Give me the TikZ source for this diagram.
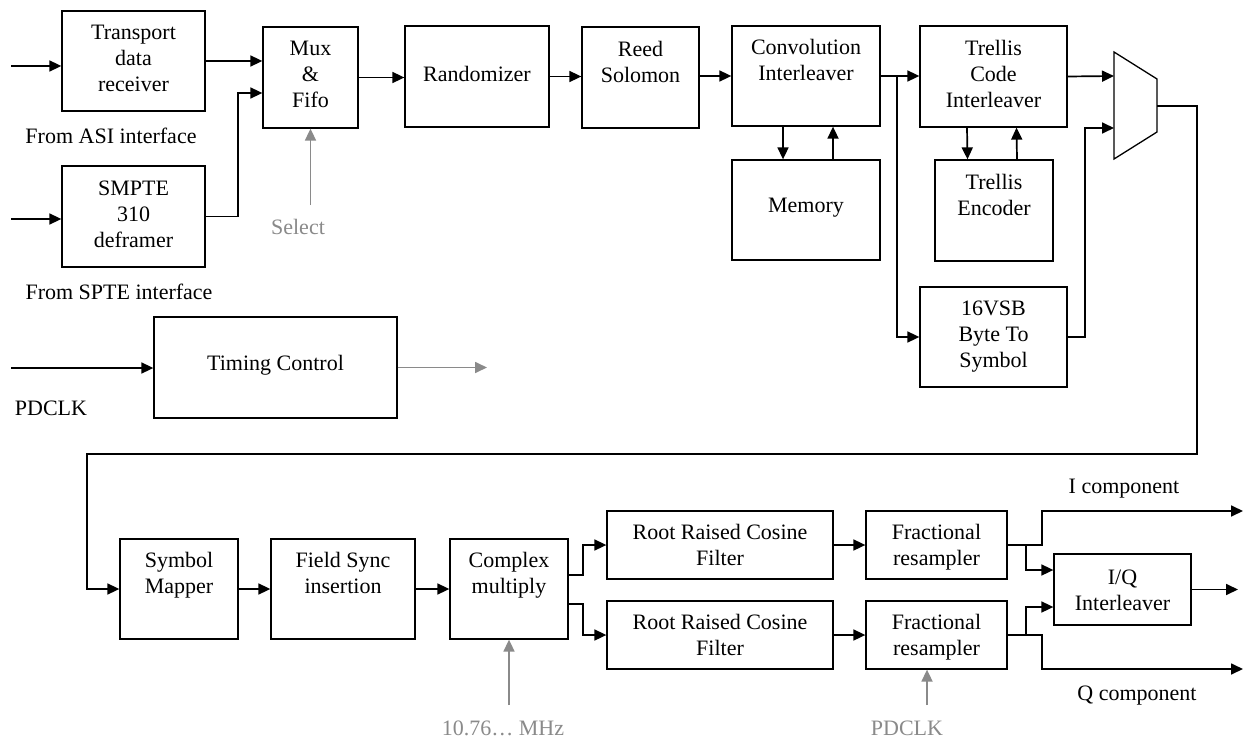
\documentclass[tikz,border=0pt]{standalone}
\usepackage{fontspec}
\setmainfont{Liberation Serif}
\usetikzlibrary{arrows.meta,calc}
\definecolor{lgray}{RGB}{138,138,138}
\begin{document}
\begin{tikzpicture}[x=1pt,y=-1pt,
  box/.style={draw, line width=1.3pt, inner sep=0pt},
  lbl/.style={font=\fontsize{22}{26}\selectfont, align=center, inner sep=0pt},
  glbl/.style={lbl, text=lgray},
  conn/.style={line width=1.7pt, -{Triangle[length=12pt,width=11pt]}},
  gconn/.style={line width=1.7pt, draw=lgray, -{Triangle[length=12pt,width=11pt]}}]
\useasboundingbox[fill=white] (0,0) rectangle (1244,738);

% ---- boxes ----
\node[box, minimum width=143pt, minimum height=100pt] (tdr) at (133.5,61) {};
\node[lbl, anchor=north] at ([yshift=-15pt]tdr.north) {Transport\\data\\receiver};
\node[box, minimum width=143pt, minimum height=101pt] (smpte) at (133.5,216.5) {};
\node[lbl, anchor=north] at ([yshift=-15pt]smpte.north) {SMPTE\\310\\deframer};
\node[box, minimum width=95pt, minimum height=101pt] (mux) at (310.5,77.5) {};
\node[lbl, anchor=north] at ([yshift=-15pt]mux.north) {Mux\\\&\\Fifo};
\node[box, minimum width=144pt, minimum height=101pt] (rand) at (477,76.5) {};
\node[lbl] at ([yshift=3pt]rand.center) {Randomizer};
\node[box, minimum width=117pt, minimum height=101pt] (rs) at (640.5,77.5) {};
\node[lbl, anchor=north] at ([yshift=-15pt]rs.north) {Reed\\Solomon};
\node[box, minimum width=148pt, minimum height=100pt] (conv) at (806,76) {};
\node[lbl, anchor=north] at ([yshift=-14pt]conv.north) {Convolution\\Interleaver};
\node[box, minimum width=148pt, minimum height=100pt] (mem) at (806,210) {};
\node[lbl] at ([yshift=2pt]mem.center) {Memory};
\node[box, minimum width=147pt, minimum height=101pt] (tci) at (993.5,76.5) {};
\node[lbl, anchor=north] at ([yshift=-15pt]tci.north) {Trellis\\Code\\Interleaver};
\node[box, minimum width=118pt, minimum height=101pt] (tenc) at (994,210.5) {};
\node[lbl, anchor=north] at ([yshift=-15pt]tenc.north) {Trellis\\Encoder};
\node[box, minimum width=147pt, minimum height=100pt] (vsb) at (993.5,337) {};
\node[lbl, anchor=north] at ([yshift=-14pt]vsb.north) {16VSB\\Byte To\\Symbol};
\node[box, minimum width=243pt, minimum height=101pt] (timing) at (275.5,367.5) {};
\node[lbl] at ([yshift=2pt]timing.center) {Timing Control};

\node[box, minimum width=118pt, minimum height=100pt] (sym) at (179,589) {};
\node[lbl, anchor=north] at ([yshift=-14pt]sym.north) {Symbol\\Mapper};
\node[box, minimum width=144pt, minimum height=100pt] (fsi) at (343,589) {};
\node[lbl, anchor=north] at ([yshift=-14pt]fsi.north) {Field Sync\\insertion};
\node[box, minimum width=118pt, minimum height=100pt] (cmul) at (509,589) {};
\node[lbl, anchor=north] at ([yshift=-14pt]cmul.north) {Complex\\multiply};
\node[box, minimum width=226pt, minimum height=68pt] (rrc1) at (720,545) {};
\node[lbl, anchor=north] at ([yshift=-14pt]rrc1.north) {Root Raised Cosine\\Filter};
\node[box, minimum width=226pt, minimum height=68pt] (rrc2) at (720,635) {};
\node[lbl, anchor=north] at ([yshift=-14pt]rrc2.north) {Root Raised Cosine\\Filter};
\node[box, minimum width=141pt, minimum height=68pt] (fr1) at (936.5,545) {};
\node[lbl, anchor=north] at ([yshift=-14pt]fr1.north) {Fractional\\resampler};
\node[box, minimum width=141pt, minimum height=68pt] (fr2) at (936.5,635) {};
\node[lbl, anchor=north] at ([yshift=-14pt]fr2.north) {Fractional\\resampler};
\node[box, minimum width=137pt, minimum height=71pt] (iq) at (1122.5,589.5) {};
\node[lbl, anchor=north] at ([yshift=-16pt]iq.north) {I/Q\\Interleaver};

% ---- output mux (trapezoid) ----
\draw[line width=1.3pt] (1114,52) -- (1157,79) -- (1157,132) -- (1114,159) -- cycle;
\coordinate (trapin1) at (1114,76);
\coordinate (trapin2) at (1114,128);
\coordinate (trapout) at (1157,106);

% ---- free labels ----
\node[lbl] (asi) at (111,136) {From ASI interface};
\node[lbl] (spte) at (119,292) {From SPTE interface};
\node[glbl] (sel) at (298,227) {Select};
\node[lbl] (pdclk1) at (51,408) {PDCLK};
\node[glbl] (mhz) at (503,728) {10.76… MHz};
\node[glbl] (pdclk2) at (907,728) {PDCLK};
\node[lbl] (icomp) at (1124,489) {I component};
\node[lbl] (qcomp) at (1137,696) {Q component};

% ---- coordinates ----
\coordinate (in1) at (11,66);
\coordinate (in2) at (11,219);
\coordinate (in3) at (11,368);
\coordinate (j1) at (238,93);
\coordinate (br1) at (897,76);
\coordinate (j2) at (1085,128);
\coordinate (l1) at (1197,106);
\coordinate (l2) at (1197,454);
\coordinate (l3) at (87,454);
\coordinate (c1) at (568,575);
\coordinate (c2) at (583,575);
\coordinate (c3) at (568,604);
\coordinate (c4) at (583,604);
\coordinate (f1) at (1042,511);
\coordinate (f2) at (1042,669);
\coordinate (iout) at (1243,511);
\coordinate (qout) at (1243,669);
\coordinate (b1) at (1026,545);
\coordinate (b2) at (1026,634);
\coordinate (iqout) at (1238,589.5);
\coordinate (selin) at (310.5,205);
\coordinate (tout) at (487,367.5);
\coordinate (mhzin) at (509,705);
\coordinate (pdin) at (927,705);

% ---- connectors ----
\draw[conn] (in1) -- (tdr.west |- in1);
\draw[conn] (tdr.east) -- (tdr.east -| mux.west);
\draw[conn] (in2) -- (smpte.west |- in2);
\draw[conn] (smpte.east) -| (j1) -- (j1 -| mux.west);
\draw[conn] (mux.east) -- (mux.east -| rand.west);
\draw[conn] (rand.east) -- (rand.east -| rs.west);
\draw[conn] (conv.west -| rs.east) -- (conv.west);
\draw[conn] (conv.east) -- (conv.east -| tci.west);
\draw[conn] (br1) |- (vsb.west);
\draw[conn] ([xshift=-23pt]conv.south) -- ([xshift=-23pt]mem.north);
\draw[conn] ([xshift=27pt]mem.north) -- ([xshift=27pt]conv.south);
\draw[conn] ([xshift=-26.5pt]tci.south) -- ([xshift=-26.5pt]tenc.north);
\draw[conn] ([xshift=23pt]tenc.north) -- ([xshift=23pt]tci.south);
\draw[conn] (tci.east) -- (trapin1);
\draw[conn] (vsb.east) -| (j2) -- (trapin2);
\draw[conn] (trapout) -- (l1) -- (l2) -- (l3) |- (sym.west);
\draw[conn] (in3) -- (timing.west |- in3);
\draw[gconn] (timing.east) -- (tout);
\draw[gconn] (selin) -- (mux.south);

\draw[conn] (sym.east) -- (fsi.west);
\draw[conn] (fsi.east) -- (cmul.west);
\draw[conn] (c1) -- (c2) |- (rrc1.west);
\draw[conn] (c3) -- (c4) |- (rrc2.west);
\draw[conn] (rrc1.east) -- (fr1.west);
\draw[conn] (rrc2.east) -- (fr2.west);
\draw[conn] (fr1.east) -| (f1) -- (iout);
\draw[conn] (fr2.east) -| (f2) -- (qout);
\draw[conn] (b1) |- ([yshift=19.5pt]iq.west);
\draw[conn] (b2) |- ([yshift=-17.5pt]iq.west);
\draw[conn] (iq.east) -- (iqout);
\draw[gconn] (mhzin) -- (cmul.south);
\draw[gconn] (pdin) -- (pdin |- fr2.south);
\end{tikzpicture}
\end{document}
